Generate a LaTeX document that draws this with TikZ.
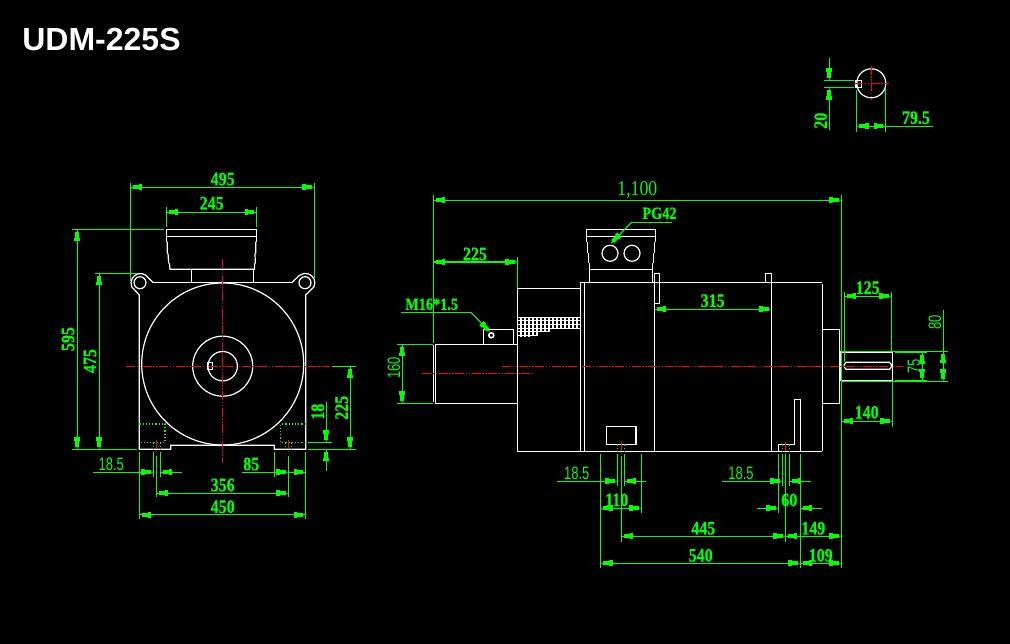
\documentclass[tikz,border=0pt]{standalone}
\usepackage{fontspec}
\usetikzlibrary{arrows.meta}
\setmainfont{Liberation Sans}
\newfontfamily\dimfont[FakeStretch=0.84,BoldFeatures={FakeStretch=0.84,FakeBold=0.8}]{Liberation Serif}
\newfontfamily\slimfont[FakeStretch=0.72]{Liberation Sans}

\begin{document}
\begin{tikzpicture}[x=1pt,y=-1pt,line width=1.2pt,
	blk/.tip={Rectangle[length=3.5pt,width=6pt] Rectangle[length=6pt,width=4pt] Rectangle[length=2.5pt,width=1.2pt]},
	body/.style={draw=white},
	extl/.style={draw=green},
	diml/.style={draw=green,fill=none,blk-blk},
	leadl/.style={draw=green,-blk},
	hiddenl/.style={draw=green,dotted},
	axisl/.style={draw=red,dash pattern=on 9pt off 1.5pt on 1.5pt off 1.5pt on 1.5pt off 1.5pt},
	dimtext/.style={text=green,inner sep=0pt,font=\dimfont\bfseries\fontsize{19}{19}\selectfont},
	slimtext/.style={text=green,inner sep=0pt,font=\slimfont\fontsize{18}{18}\selectfont}]
	\useasboundingbox (0,0) rectangle (1010,644);
	\fill [black] (0,0) rectangle (1010,644);
	%title
	\node at (101.5,39) (title) [text=white,inner sep=0pt,font=\bfseries\fontsize{32}{32}\selectfont] {UDM-225S};

	%end view, terminal box
	\draw [body] (166.3,241.7) -- (166.3,229.3) -- (256.7,229.3) -- (256.7,241.7);
	\draw [body] (166.3,236.3) -- (256.7,236.3);
	\draw [body] (167.3,241.7) -- (167.3,253.3) (168,253.3) -- (168.7,263.3) (169.5,263.3) -- (170,269.3) -- (254.3,269.3) -- (254.7,263.3) (255,253.3) -- (255.3,263.3) (255.7,241.7) -- (255.7,253.3);
	\draw [body] (191.3,269.3) -- (191.3,282.7) (253.3,269.3) -- (253.3,282.7);
	%end view, frame and ears
	\draw [body] (153.3,282.7) -- (291.7,282.7);
	\draw [body] (153.3,282.7) -- (145.4,274.9) arc [start angle=-59,end angle=-205,radius=9.5] -- (139.3,295) -- (139.3,449.3) -- (170.7,449.3) -- (170.7,445.3) -- (274.3,445.3) -- (274.3,449.3) -- (305.7,449.3) -- (305.7,295) -- (314,286.7) arc [start angle=24,end angle=-126.5,radius=9.5] -- (291.7,282.7);
	\draw [body] (140,282.7) circle [radius=6];
	\draw [body] (305,282.7) circle [radius=6];
	%end view, stator
	\draw [body] (222.7,364) circle [radius=81];
	\draw [body] (222.7,366.2) circle [radius=30];
	\draw [body] (222.7,366.2) circle [radius=14.7];
	\draw [body] (207.3,362.3) rectangle (212.7,369.7);
	%end view, feet
	\draw [hiddenl] (139.3,424) -- (165,424) -- (165,442.3) -- (139.3,442.3);
	\draw [hiddenl] (305.7,424) -- (280.7,424) -- (280.7,442.3) -- (305.7,442.3);
	\draw [hiddenl] (153.3,442.3) -- (153.3,450) (160.3,442.3) -- (160.3,450);
	\draw [hiddenl] (285.3,442.3) -- (285.3,450) (291.7,442.3) -- (291.7,450);
	%end view, axes
	\draw [axisl] (126,366.3) -- (330,366.3);
	\draw [axisl] (222.7,259.3) -- (222.7,463.3);
	\draw [axisl] (156.3,440) -- (156.3,453.3);
	\draw [axisl] (288.3,440) -- (288.3,453.3);

	%end view, dimensions
	\draw [extl] (130.3,183) -- (130.3,281) (314.3,183) -- (314.3,278);
	\draw [diml] (130.3,187.3) -- (314.3,187.3);
	\node at (222.7,179) (d495) [dimtext] {495};
	\draw [extl] (166.3,207) -- (166.3,227) (256.7,207) -- (256.7,227);
	\draw [diml] (166.3,212.3) -- (256.7,212.3);
	\node at (211.7,203.3) (d245) [dimtext] {245};
	\draw [extl] (72,229.3) -- (164,229.3) (95,273.3) -- (137,273.3) (72,449.3) -- (136.7,449.3);
	\draw [diml] (77.3,229.3) -- (77.3,449.3);
	\node at (68,339) (d595) [dimtext,rotate=90] {595};
	\draw [diml] (99.3,273.3) -- (99.3,449.3);
	\node at (90,361) (d475) [dimtext,rotate=90] {475};
	\draw [extl] (139.3,452.3) -- (139.3,519.3) (305.7,452.3) -- (305.7,519.3);
	\draw [extl] (153.3,452) -- (153.3,477) (160.3,452) -- (160.3,477) (156.3,456) -- (156.3,497.3);
	\draw [extl] (274.3,452) -- (274.3,477) (288.3,456) -- (288.3,497.3);
	\draw [leadl] (93.3,472.3) -- (153.3,472.3);
	\draw [leadl] (181.7,472.3) -- (160.3,472.3);
	\node at (111.3,464) (d185a) [slimtext] {18.5};
	\draw [leadl] (241.7,472.3) -- (288.3,472.3);
	\draw [leadl] (288.3,472.3) -- (305.7,472.3);
	\node at (251.3,464) (d85) [dimtext] {85};
	\draw [diml] (156.3,493.3) -- (288.3,493.3);
	\node at (222.7,485) (d356) [dimtext] {356};
	\draw [diml] (139.3,514.7) -- (305.7,514.7);
	\node at (222.7,506.7) (d450) [dimtext] {450};
	\draw [extl] (331.7,366.3) -- (356,366.3) (308,449.3) -- (356,449.3) (308,442.3) -- (331.7,442.3);
	\draw [diml] (350.3,366.3) -- (350.3,449.3);
	\node at (341.7,407.7) (d225a) [dimtext,rotate=90] {225};
	\draw [leadl] (326.3,402.3) -- (326.3,442.3);
	\draw [leadl] (326.3,470.7) -- (326.3,449.3);
	\node at (317.7,411.7) (d18) [dimtext,rotate=90] {18};

	%side view, fan cover
	\draw [body] (435.3,344.3) rectangle (517.3,403.3);
	\draw [body] (433.7,345) -- (433.7,402);
	\draw [body] (483.3,344.3) -- (483.3,329.3) -- (513.7,329.3) -- (513.7,344.3);
	\draw [body,line width=1.6pt] (491.3,335.3) circle [radius=2.5];
	%side view, housing
	\draw [body] (517.3,451.3) -- (517.3,288.3) -- (580.3,288.3);
	\draw [body] (517.3,451.3) -- (821.7,451.3);
	\draw [body] (580.3,451.3) -- (580.3,282.3) -- (821.7,282.3);
	\draw [body] (584.3,282.3) -- (584.3,451.3);
	\draw [body] (654.3,303.3) -- (654.3,451.3);
	\draw [body] (771.3,282.3) -- (771.3,451.3);
	\draw [body] (822.3,284) -- (822.3,451.3);
	\draw [body] (654.3,282.3) -- (654.3,273.3) -- (659.7,273.3) -- (659.7,303.3) -- (654.3,303.3) -- (654.3,282.3);
	\draw [body] (765.3,282.3) -- (765.3,273.3) -- (771.3,273.3) -- (771.3,282.3);
	%side view, mesh
	\draw [body] (517.3,317.3) -- (580.3,317.3) (517.3,320.7) -- (580.3,320.7) (517.3,324.7) -- (580.3,324.7) (517.3,328.7) -- (580.3,328.7) (517.3,331.7) -- (550,331.7) (517.3,335.7) -- (538.3,335.7);
	\foreach \xm/\ym in {521/337,525/337,529/337,533/336,537/335,541/332,545/332,549/331,553/329,557/329,561/329,565/329,569/329,573/329,577/329}
		\draw [body] (\xm,317.3) -- (\xm,\ym);
	%side view, terminal box
	\draw [body] (586.7,241.7) -- (586.7,229.3) -- (655.7,229.3) -- (655.7,241.7);
	\draw [body] (586.7,236.3) -- (655.7,236.3);
	\draw [body] (587.7,242) -- (587.7,253.3) (588.7,253.3) -- (588.7,263) (589.7,263) -- (589.7,282.3);
	\draw [body] (654.7,242) -- (654.7,253.3) (653.7,253.3) -- (653.7,263) (652.7,263) -- (652.7,282.3);
	\draw [body] (589.7,269.3) -- (652.7,269.3);
	\draw [body] (610,253.3) circle [radius=8];
	\draw [body] (632,253.3) circle [radius=8];
	%side view, front end
	\draw [body] (822.3,329.3) -- (839.3,329.3) -- (839.3,403.3) -- (822.3,403.3);
	\draw [body] (841.7,352.3) rectangle (892.3,380.7);
	\draw [body] (840.3,351.5) -- (840.3,381.5);
	\draw [body] (846,362.3) -- (889.5,362.3) -- (891.3,364.5) -- (891.3,367) -- (889.5,369.3) -- (846,369.3) -- (844.3,367) -- (844.3,364.5) -- cycle;
	%side view, bottom parts
	\draw [body] (606.3,426.3) rectangle (636,444.3);
	\draw [body] (778.3,451.3) -- (778.3,444.3) -- (794.3,444.3) -- (794.3,399.3) -- (800.7,399.3) -- (800.7,451.3);
	\draw [hiddenl] (617.3,444.3) -- (617.3,451.3) (624.3,444.3) -- (624.3,451.3);
	\draw [hiddenl] (782.3,444.3) -- (782.3,451.3) (789.3,444.3) -- (789.3,451.3);
	%side view, axes
	\draw [axisl] (502.3,366.3) -- (578,366.3);
	\draw [axisl] (582,366.3) -- (903.3,366.3);
	\draw [axisl] (422.3,373.3) -- (532.7,373.3);
	\draw [axisl] (621.3,442) -- (621.3,456.7);
	\draw [axisl] (785.7,442) -- (785.7,456.7);

	%side view, dimensions
	\draw [extl] (433.3,195) -- (433.3,343.3) (841.3,195) -- (841.3,568.3);
	\draw [diml] (433.3,200.3) -- (841.3,200.3);
	\node at (637.3,190) (d1100) [slimtext,font=\dimfont\fontsize{21}{21}\selectfont] {1,100};
	\draw [extl] (517.3,257.3) -- (517.3,288.3);
	\draw [diml] (433.3,262) -- (517.3,262);
	\node at (475,254) (d225b) [dimtext] {225};
	\draw [extl] (672,222.3) -- (631.7,222.3);
	\draw [leadl] (631.7,222.3) -- (611,243.3);
	\node at (659.5,213.3) (pg) [dimtext,font=\dimfont\bfseries\fontsize{17}{17}\selectfont] {PG42};
	\draw [extl] (401,312.3) -- (470.7,312.3);
	\draw [leadl] (470.7,312.3) -- (490,331.7);
	\node at (431.7,304.3) (thread) [dimtext,font=\dimfont\bfseries\fontsize{17}{17}\selectfont] {M16*1.5};
	\draw [extl] (397,344.3) -- (433,344.3) (397,403.3) -- (433,403.3);
	\draw [diml] (402.3,344.3) -- (402.3,403.3);
	\node at (394,368) (d160) [slimtext,rotate=90] {160};
	\draw [diml] (654.3,309.3) -- (771.3,309.3);
	\node at (712.7,300.7) (d315) [dimtext] {315};
	\draw [extl] (844.3,292.3) -- (844.3,362) (891.3,292.3) -- (891.3,350.7);
	\draw [diml] (844.3,296.3) -- (891.3,296.3);
	\node at (867.7,287.7) (d125) [dimtext] {125};
	\draw [extl] (892.3,381) -- (892.3,426.7);
	\draw [diml] (841.3,421.3) -- (892.3,421.3);
	\node at (866.7,412.3) (d140) [dimtext] {140};
	\draw [extl] (841,351.3) -- (948,351.3) (841,381.3) -- (948,381.3) (943.3,310) -- (943.3,351.3);
	\draw [diml] (943.3,351.3) -- (943.3,381.3);
	\node at (935,322.7) (d80) [slimtext,rotate=90] {80};
	\draw [extl,line width=1.6pt] (895,352.3) -- (926.7,352.3) (895,380.7) -- (926.7,380.7);
	\draw [diml] (922.3,352.3) -- (922.3,380.7);
	\node at (914,366) (d75) [slimtext,rotate=90] {75};
	\draw [extl] (617.3,454) -- (617.3,486) (624.3,454) -- (624.3,486) (782.3,454) -- (782.3,486) (789.3,454) -- (789.3,486);
	\draw [leadl] (557.3,481.3) -- (617.3,481.3);
	\draw [leadl] (646,481.3) -- (624.3,481.3);
	\node at (576.7,473.3) (d185b) [slimtext] {18.5};
	\draw [leadl] (722.3,481.3) -- (782.3,481.3);
	\draw [leadl] (810.7,481.3) -- (789.3,481.3);
	\node at (741,473.3) (d185c) [slimtext] {18.5};
	\draw [extl] (600.7,454) -- (600.7,568.3) (641.3,454) -- (641.3,513.3);
	\draw [diml] (600.7,508.3) -- (641.3,508.3);
	\node at (616.7,500) (d110) [dimtext] {110};
	\draw [extl] (778.3,454) -- (778.3,513.3) (800.3,454) -- (800.3,568.3);
	\draw [leadl] (757.3,508.3) -- (778.3,508.3);
	\draw [leadl] (821.7,508.3) -- (800.3,508.3);
	\node at (789.3,500) (d60) [dimtext] {60};
	\draw [extl] (621.3,456) -- (621.3,541.7) (785.3,454) -- (785.3,541.7);
	\draw [diml] (621.3,536.3) -- (785.3,536.3);
	\node at (703.3,528.3) (d445) [dimtext] {445};
	\draw [diml] (785.3,536.3) -- (841.3,536.3);
	\node at (813.3,528.3) (d149) [dimtext] {149};
	\draw [diml] (600.7,563.3) -- (800.3,563.3);
	\node at (700.7,555.3) (d540) [dimtext] {540};
	\draw [diml] (800.3,563.3) -- (841.3,563.3);
	\node at (820.7,555.3) (d109) [dimtext] {109};

	%shaft detail
	\draw [body] (871.3,83.3) circle [radius=14.5];
	\draw [body] (856,80.3) rectangle (861.7,87.7);
	\draw [axisl] (854.3,83.3) -- (889,83.3);
	\draw [axisl] (871.3,66) -- (871.3,100);
	\draw [extl] (824,80.3) -- (854,80.3) (824,87.7) -- (854,87.7);
	\draw [leadl] (829.3,58.3) -- (829.3,80.3);
	\draw [leadl] (829.3,130) -- (829.3,87.7);
	\node at (820.7,120.7) (d20) [dimtext,rotate=90] {20};
	\draw [extl] (856.7,90) -- (856.7,131.7) (885.7,88) -- (885.7,131.7);
	\draw [diml] (856.7,126.3) -- (885.7,126.3);
	\draw [extl] (885.7,126.3) -- (932.7,126.3);
	\node at (916,117.7) (d795) [dimtext] {79.5};
\end{tikzpicture}
\end{document}
